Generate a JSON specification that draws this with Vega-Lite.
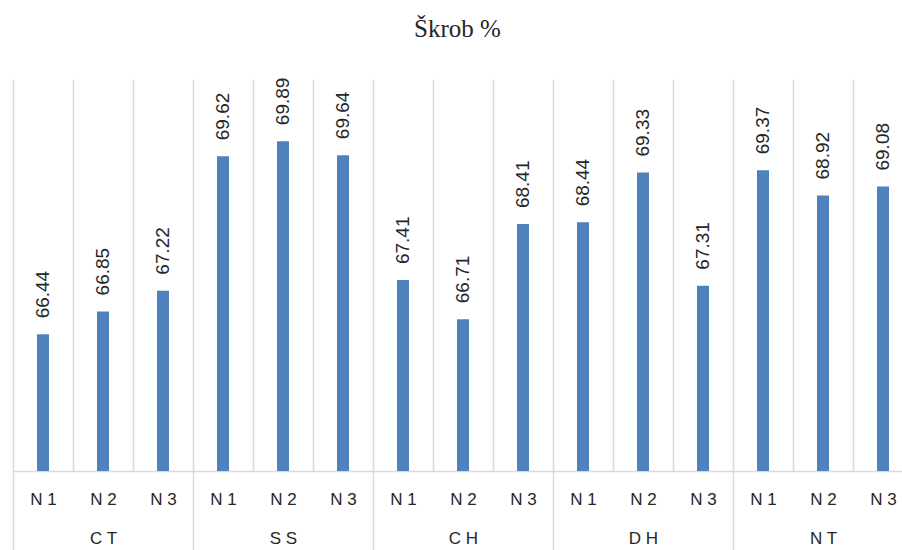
{
  "$schema": "https://vega.github.io/schema/vega-lite/v6.json",
  "width": 889,
  "height": 392,
  "autosize": {"type": "none"},
  "padding": {"left": 13, "top": 79, "right": 0, "bottom": 79},
  "background": "white",
  "title": {"text": "Škrob %", "font": "Liberation Serif", "fontSize": 25, "fontWeight": "normal", "color": "#262626", "anchor": "middle", "offset": 16, "baseline": "alphabetic"},
  "config": {"view": {"stroke": null}},
  "datasets": {
    "bars": [
      {"group": "CT", "n": "N1", "key": "CT|N1", "value": 66.44},
      {"group": "CT", "n": "N2", "key": "CT|N2", "value": 66.85},
      {"group": "CT", "n": "N3", "key": "CT|N3", "value": 67.22},
      {"group": "SS", "n": "N1", "key": "SS|N1", "value": 69.62},
      {"group": "SS", "n": "N2", "key": "SS|N2", "value": 69.89},
      {"group": "SS", "n": "N3", "key": "SS|N3", "value": 69.64},
      {"group": "CH", "n": "N1", "key": "CH|N1", "value": 67.41},
      {"group": "CH", "n": "N2", "key": "CH|N2", "value": 66.71},
      {"group": "CH", "n": "N3", "key": "CH|N3", "value": 68.41},
      {"group": "DH", "n": "N1", "key": "DH|N1", "value": 68.44},
      {"group": "DH", "n": "N2", "key": "DH|N2", "value": 69.33},
      {"group": "DH", "n": "N3", "key": "DH|N3", "value": 67.31},
      {"group": "NT", "n": "N1", "key": "NT|N1", "value": 69.37},
      {"group": "NT", "n": "N2", "key": "NT|N2", "value": 68.92},
      {"group": "NT", "n": "N3", "key": "NT|N3", "value": 69.08}
    ],
    "groups": [
      {"group": "CT"}, {"group": "SS"}, {"group": "CH"}, {"group": "DH"}, {"group": "NT"}
    ]
  },
  "layer": [
    {
      "data": {"name": "bars"},
      "encoding": {
        "x": {
          "field": "key", "type": "nominal", "sort": null,
          "scale": {"range": [0, 900], "paddingInner": 0, "paddingOuter": 0},
          "axis": {
            "orient": "bottom", "offset": 0, "title": null,
            "labelExpr": "datum.label && indexof(datum.label,'|') > 0 ? replace(split(datum.label,'|')[1],'N','N ') : ''",
            "labelAngle": 0, "ticks": false,
            "domain": true, "domainColor": "#d9d9d9", "domainWidth": 1.5,
            "grid": true, "gridColor": "#d9d9d9", "gridWidth": 1.5,
            "tickBand": "extent",
            "labelFont": "Liberation Sans", "labelFontSize": 17, "labelColor": "#262626",
            "labelPadding": 20, "zindex": 0
          }
        },
        "y": {
          "field": "value", "type": "quantitative",
          "scale": {"domain": [64, 71], "nice": false, "zero": false},
          "axis": null
        }
      },
      "layer": [
        {
          "mark": {"type": "bar", "color": "#4f81bd", "width": {"band": 0.2}},
          "encoding": {"y2": {"datum": 64}}
        },
        {
          "mark": {"type": "text", "angle": 270, "align": "left", "baseline": "middle", "dx": 16, "font": "Liberation Sans", "fontSize": 19, "color": "#262626"},
          "encoding": {"text": {"field": "value", "type": "quantitative", "format": ".2f"}}
        }
      ]
    },
    {
      "data": {"name": "groups"},
      "mark": {"type": "point", "opacity": 0},
      "encoding": {
        "x": {
          "field": "group", "type": "nominal", "sort": null,
          "scale": {"range": [0, 900], "paddingInner": 0, "paddingOuter": 0},
          "axis": {
            "orient": "bottom", "offset": 0, "title": null,
            "domain": false, "ticks": true, "tickBand": "extent",
            "tickSize": 79, "tickColor": "#d9d9d9", "tickWidth": 1.5,
            "grid": false, "labelAngle": 0,
            "labelExpr": "datum.label ? join(split(datum.label,''),' ') : ''",
            "labelFont": "Liberation Sans", "labelFontSize": 17, "labelColor": "#262626",
            "labelPadding": -20
          }
        }
      }
    }
  ],
  "resolve": {"scale": {"x": "independent"}, "axis": {"x": "independent"}}
}
